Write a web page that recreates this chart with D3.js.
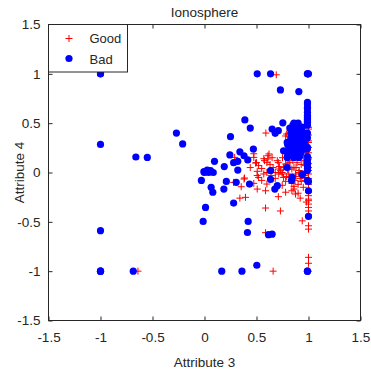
<!DOCTYPE html>
<html>
<head>
<meta charset="utf-8">
<script src="https://cdn.jsdelivr.net/npm/d3@7"></script>
<style>
  body { margin: 0; background: #fff; }
  svg text { font-family: "Liberation Sans", Arial, Helvetica, sans-serif; fill: #262626; }
</style>
</head>
<body>
<div id="chart"></div>
<script>
// Data: Attribute 3 (x) vs Attribute 4 (y)
const goodA3 = [
  -0.64, 0.66, 1, 1, 1, 0.69, 1, 1, 1, 0.59, 0.79, 0.78, 1, 1,
  0.29, 0.474, 0.474, 0.62, 0.61, 0.61, 0.5, 0.49, 0.44, 0.507, 0.70, 0.714,
  0.747, 0.795, 0.86, 0.89, 1, 1, 1, 0.385, 0.843, 0.60, 0.52, 0.71, 0.78,
  0.81, 0.84, 0.907, 0.97, 1, 0.68, 0.747, 0.577, 0.60, 0.57, 0.73, 0.507,
  0.52, 0.507, 0.71, 0.587, 0.73, 0.747, 0.86, 0.9, 0.875, 0.84, 0.81, 0.94,
  1, 1, 1, 1, 1, 1, 1, 1, 0.714, 0.76, 0.875, 0.6, 0.28, 0.353, 0.474, 0.34,
  0.394, 0.587, 0.587, 0.38, 0.8, 0.85, 0.9, 0.93, 0.95, 0.88, 0.82, 0.87,
  0.92, 0.96, 0.78, 0.9, 0.95, 1, 1, 1, 1, 1, 1, 0.97, 0.65, 0.66, 0.55,
  0.68, 0.64, 0.72, 0.75, 0.57, 0.55, 0.63, 0.9, 0.83, 0.98, 0.78, 0.92,
  0.80, 0.84, 0.88, 0.91, 0.76, 0.82, 0.86, 0.79, 0.93, 0.97, 1, 1, 1
];
const goodA4 = [
  -1, -1, -0.86, -0.92, -1, 0.99, 1, 0.458, 0.44, 0.40, 0.39, 0.37, 0.305, 0.254,
  0.153, 0.19, 0.153, 0.188, 0.17, 0.137, 0.10, 0.096, 0.05, 0.012, 0.12, 0.035,
  -0.015, 0.086, 0.05, 0.10, 0.153, 0.05, -0.015, -0.056, 0.153, 0.10, 0.07, 0.10, 0.086,
  0.137, 0.035, 0.0, 0.07, 0.137, 0.0, 0.0, 0.12, 0.0, -0.015, 0.018, -0.03,
  -0.05, -0.168, -0.245, -0.36, -0.39, -0.13, -0.168, -0.21, -0.218, -0.185, -0.015, -0.49,
  -0.286, -0.354, -0.39, -0.27, -0.32, -0.54, -0.574, -0.235, -0.015, -0.05, -0.015, -0.117, -0.10, -0.144, -0.11, -0.26,
  -0.252, -0.185, -0.61, -0.066, 0.17, 0.12, 0.15, 0.08, 0.12, 0.05, -0.05, -0.08,
  -0.06, -0.03, -0.09, -0.12, -0.15, -0.06, -0.12, 0.09, 0.2, 0.32, 0.38, 0.2, 0.15, 0.05, 0.04,
  -0.06, -0.03, 0.06, 0.15, 0.14, -0.08, 0.08, 0.24, 0.22, -0.3, -0.2, -0.26,
  0.03, -0.11, -0.04, 0.02, 0.05, 0.10, -0.14, -0.04, -0.09, -0.08, 0.02, -0.20, -0.43
];
const badA3 = [
  -1, -1, -1, -1, -1, -1, -1, -0.685, -0.66, -0.55, -0.27, -0.21, -0.03,
  -0.006, 0.026, 0.058, 0.084, 0.04, 0.0, 0.096, 0.19, 0.244, 0.25, 0.28, 0.32,
  0.34, 0.38, 0.416, 0.47, 0.388, 0.44, 0.32, 0.21, 0.305, 0.433, 0.064, 0.08,
  0.186, 0.28, 0.01, -0.013, 0.42, 0.413, 0.615, 0.65, 0.166, 0.36, 0.503, 0.99, 0.99,
  0.507, 0.635, 0.99, 0.99, 1, 0.73, 0.907, 0.99, 0.99, 0.99, 0.99, 0.753, 0.65, 0.68, 0.71,
  0.82, 0.85, 0.88, 0.86, 0.90, 0.84, 0.88, 0.92, 0.95, 0.86, 0.90, 0.94, 0.82, 0.96,
  0.88, 0.92, 0.80, 0.84,
  0.83, 0.87, 0.91, 0.93, 0.89, 0.85, 0.91, 0.87, 0.83, 0.94, 0.90, 0.86, 0.96, 0.95,
  0.81, 0.85, 0.89, 0.93, 0.80, 0.84, 0.88, 0.92, 0.87,
  0.99, 0.99, 0.99, 0.99, 0.99, 0.99, 0.99, 0.99, 0.99, 0.99, 0.99, 1, 1, 0.99, 1,
  0.99, 0.99, 0.99, 0.99, 0.99, 0.99,
  0.795, 0.76, 0.795, 0.86, 0.92, 0.907, 0.81, 0.97, 0.92, 0.86, 0.94, 0.843, 0.635,
  0.635, 0.676, 0.837, 0.795, 0.70, 0.94
];
const badA4 = [
  1, 1, 0.285, -0.59, -1, -1, -1, -1, 0.157, 0.153, 0.40, 0.29, -0.08,
  0.008, 0.025, 0.018, 0.0, 0.0, 0.0, 0.113, 0.06, 0.178, 0.363, 0.10, 0.113,
  0.21, 0.17, 0.127, 0.238, 0.533, 0.45, 0.025, -0.09, -0.10, -0.117, -0.15, -0.20,
  -0.168, -0.31, -0.354, -0.496, -0.496, -0.608, -0.63, -0.625, -1, -1, -0.94, -1, -1,
  1, 1, 1, 1, 1, 0.837, 0.82, 0.695, 0.645, 0.56, 0.51, 0.503, 0.44, 0.397, 0.424,
  0.45, 0.48, 0.47, 0.42, 0.42, 0.38, 0.36, 0.38, 0.40, 0.33, 0.31, 0.33, 0.31, 0.30,
  0.28, 0.27, 0.28, 0.26,
  0.40, 0.44, 0.46, 0.43, 0.39, 0.35, 0.34, 0.30, 0.35, 0.46, 0.50, 0.50, 0.36, 0.27,
  0.22, 0.22, 0.23, 0.21, 0.18, 0.17, 0.18, 0.19, 0.25,
  0.58, 0.48, 0.40, 0.35, 0.255, 0.24, 0.12, 0.16, 0.09, 0.06, 0.02, -0.09, -0.185, -0.08, -0.445,
  0.71, 0.66, 0.61, 0.54, 0.52, 0.04,
  0.305, 0.22, 0.153, 0.204, 0.22, 0.153, 0.204, 0.24, 0.17, 0.153, -0.015, -0.05, 0.018,
  -0.07, -0.168, -0.08, 0.05, -0.134, -0.022
];
const xTicks = [-1.5, -1, -0.5, 0, 0.5, 1, 1.5];
const yTicks = [-1.5, -1, -0.5, 0, 0.5, 1, 1.5];
const xTickLabels = ['-1.5', '-1', '-0.5', '0', '0.5', '1', '1.5'];
const yTickLabels = ['-1.5', '-1', '-0.5', '0', '0.5', '1', '1.5'];
const seriesNames = ['Good', 'Bad'];

const width = 371;
const height = 374;
const plot = { left: 48.5, right: 360.5, top: 24.5, bottom: 320.5 };
const axisColor = '#262626';

const svg = d3.select('#chart')
  .append('svg')
  .attr('width', width)
  .attr('height', height);

const x = d3.scaleLinear().domain([-1.5, 1.5]).range([plot.left, plot.right]);
const y = d3.scaleLinear().domain([-1.5, 1.5]).range([plot.bottom, plot.top]);

const good = goodA3.map((v, i) => [v, goodA4[i]]);
const bad = badA3.map((v, i) => [v, badA4[i]]);

// Good: red plus markers
const plusPath = 'M-3.5,0H3.5M0,-3.5V3.5';
svg.append('g')
  .selectAll('path')
  .data(good)
  .join('path')
  .attr('d', plusPath)
  .attr('transform', d => `translate(${x(d[0])},${y(d[1])})`)
  .attr('fill', 'none')
  .attr('stroke', '#ff0000')
  .attr('stroke-width', 1);

// Bad: blue filled circles
svg.append('g')
  .selectAll('circle')
  .data(bad)
  .join('circle')
  .attr('cx', d => x(d[0]))
  .attr('cy', d => y(d[1]))
  .attr('r', 3.6)
  .attr('fill', '#0000ff');

// Axes with inward ticks on all four sides
function styleAxis(g) {
  g.select('.domain').remove();
  g.selectAll('line').attr('stroke', axisColor);
  g.selectAll('text')
    .attr('fill', axisColor)
    .style('font-size', '13.5px');
}

svg.append('g')
  .attr('transform', `translate(0,${plot.bottom})`)
  .call(d3.axisBottom(x).tickValues(xTicks).tickSize(-4).tickSizeOuter(0)
    .tickPadding(12).tickFormat((d, i) => xTickLabels[i]))
  .call(styleAxis);

svg.append('g')
  .attr('transform', `translate(0,${plot.top})`)
  .call(d3.axisTop(x).tickValues(xTicks).tickSize(-4).tickSizeOuter(0).tickFormat(''))
  .call(styleAxis);

svg.append('g')
  .attr('transform', `translate(${plot.left},0)`)
  .call(d3.axisLeft(y).tickValues(yTicks).tickSize(-4).tickSizeOuter(0)
    .tickPadding(8).tickFormat((d, i) => yTickLabels[i]))
  .call(styleAxis);

svg.append('g')
  .attr('transform', `translate(${plot.right},0)`)
  .call(d3.axisRight(y).tickValues(yTicks).tickSize(-4).tickSizeOuter(0).tickFormat(''))
  .call(styleAxis);

// Box
svg.append('rect')
  .attr('x', plot.left)
  .attr('y', plot.top)
  .attr('width', plot.right - plot.left)
  .attr('height', plot.bottom - plot.top)
  .attr('fill', 'none')
  .attr('stroke', axisColor)
  .attr('stroke-width', 1);

// Title and labels
svg.append('text')
  .attr('x', (plot.left + plot.right) / 2)
  .attr('y', 17)
  .attr('text-anchor', 'middle')
  .style('font-size', '13.5px')
  .text('Ionosphere');

svg.append('text')
  .attr('x', (plot.left + plot.right) / 2)
  .attr('y', 367)
  .attr('text-anchor', 'middle')
  .style('font-size', '13.5px')
  .text('Attribute 3');

svg.append('text')
  .attr('transform', `translate(24,${(plot.top + plot.bottom) / 2}) rotate(-90)`)
  .attr('text-anchor', 'middle')
  .style('font-size', '13.5px')
  .text('Attribute 4');

// Legend
const legend = svg.append('g');
legend.append('rect')
  .attr('x', plot.left)
  .attr('y', plot.top)
  .attr('width', 79)
  .attr('height', 47.5)
  .attr('fill', '#fff')
  .attr('stroke', axisColor)
  .attr('stroke-width', 1);

legend.append('path')
  .attr('d', plusPath)
  .attr('transform', 'translate(69,38.5)')
  .attr('fill', 'none')
  .attr('stroke', '#ff0000');

legend.append('circle')
  .attr('cx', 69)
  .attr('cy', 58.5)
  .attr('r', 3.6)
  .attr('fill', '#0000ff');

legend.selectAll('text.entry')
  .data(seriesNames)
  .join('text')
  .attr('class', 'entry')
  .attr('x', 89.5)
  .attr('y', (d, i) => 43 + i * 20.5)
  .style('font-size', '13px')
  .text(d => d);
</script>
</body>
</html>
